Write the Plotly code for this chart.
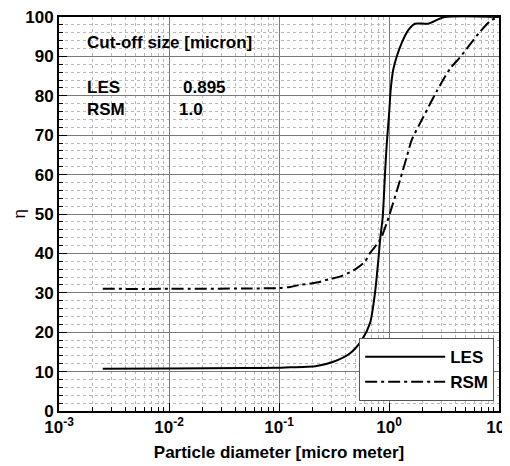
import plotly.graph_objects as go

# ---- data ----
les_d = [0.0025, 0.01, 0.05, 0.1, 0.126, 0.18, 0.22, 0.312, 0.44, 0.565, 0.672, 0.746, 0.8, 0.83,
         0.877, 0.92, 0.95, 0.98, 1.007, 1.035, 1.09, 1.17, 1.30, 1.49, 1.72, 2.26, 3.2, 10.0]
les_eta = [10.7, 10.8, 10.9, 11.0, 11.1, 11.2, 11.4, 12.5, 14.6, 18.0, 22.3, 30.0, 38.3, 43.4,
           49.3, 60.3, 67.0, 72.0, 76.3, 81.4, 86.5, 89.8, 93.3, 96.6, 98.3, 98.3, 100.0, 100.0]

rsm_d = [0.0025, 0.01, 0.05, 0.1, 0.126, 0.155, 0.22, 0.29, 0.359, 0.44, 0.508, 0.605, 0.672,
         0.83, 0.953, 1.09, 1.26, 1.45, 1.61, 2.05, 2.72, 3.59, 4.4, 6.7, 8.5, 10.0]
rsm_eta = [31.0, 31.0, 31.1, 31.2, 31.5, 32.0, 32.6, 33.5, 34.1, 35.2, 36.2, 37.9, 40.1,
           43.4, 47.7, 52.8, 58.6, 64.5, 68.8, 74.6, 81.2, 86.9, 89.7, 96.2, 99.2, 100.0]

x_tickvals = [0.001, 0.01, 0.1, 1, 10]
x_ticktext = ["10<sup>-3</sup>", "10<sup>-2</sup>", "10<sup>-1</sup>", "10<sup>0</sup>", "10<sup>1</sup>"]
y_tickvals = [0, 10, 20, 30, 40, 50, 60, 70, 80, 90, 100]

x_title = "Particle diameter [micro meter]"
y_title = "η"
cutoff_title = "Cut-off size [micron]"
cutoff_names = ["LES", "RSM"]
cutoff_values = ["0.895", "1.0"]

FONT = "Liberation Sans, Arial, sans-serif"
x_minor = [m * 10 ** e for e in range(-3, 1) for m in range(2, 10)]

fig = go.Figure()
fig.add_trace(go.Scatter(x=les_d, y=les_eta, mode="lines", name="LES",
                         line=dict(color="black", width=2, dash="solid",
                                   shape="spline", smoothing=0.7)))
fig.add_trace(go.Scatter(x=rsm_d, y=rsm_eta, mode="lines", name="RSM",
                         line=dict(color="black", width=2, dash="12px,4px,3px,4px",
                                   shape="spline", smoothing=0.7)))

# page body has an 8px margin, so the figure is 8px smaller and margins shifted
fig.update_layout(
    width=502, height=458,
    margin=dict(l=51, r=11, t=9, b=55),
    plot_bgcolor="white", paper_bgcolor="white",
    font=dict(family=FONT, size=17, color="black"),
    showlegend=True,
    legend=dict(x=0.989, y=0.025, xanchor="right", yanchor="bottom",
                bgcolor="white", bordercolor="#555555", borderwidth=1,
                font=dict(family=FONT, size=17, color="black", weight="bold"),
                itemwidth=80, tracegroupgap=0),
    xaxis=dict(
        type="log", range=[-3, 1], automargin=False, ticklabeloverflow="allow",
        tickvals=x_tickvals, ticktext=x_ticktext,
        ticks="inside", ticklen=8, tickwidth=1, tickcolor="black",
        showline=True, linewidth=2, linecolor="black", mirror=True,
        showgrid=True, gridcolor="#7a7a7a", gridwidth=1,
        tickfont=dict(family=FONT, size=17, weight="bold"),
        minor=dict(tickvals=x_minor, ticks="inside", ticklen=4, tickcolor="black",
                   showgrid=True, gridcolor="#b8b8b8", griddash="dot", gridwidth=1),
        title=dict(text=x_title,
                   font=dict(family=FONT, size=17, weight="bold"), standoff=10),
        zeroline=False,
    ),
    yaxis=dict(
        range=[0, 100], tickvals=y_tickvals, automargin=False, ticklabeloverflow="allow",
        ticks="inside", ticklen=8, tickwidth=1, tickcolor="black",
        showline=True, linewidth=2, linecolor="black", mirror=True,
        showgrid=True, gridcolor="#7a7a7a", gridwidth=1,
        tickfont=dict(family=FONT, size=17, weight="bold"),
        minor=dict(dtick=2, ticks="inside", ticklen=4, tickcolor="black",
                   showgrid=True, gridcolor="#b8b8b8", griddash="dot", gridwidth=1),
        zeroline=False,
    ),
)

# y-axis title (rotated), placed left of the tick labels
fig.add_annotation(xref="paper", yref="paper", x=-0.09, y=0.5, xanchor="center", yanchor="middle",
                   text=y_title, textangle=-90, showarrow=False, borderpad=0,
                   font=dict(family=FONT, size=17))

# white info box
fig.add_shape(type="rect", xref="paper", yref="paper", x0=0.041, x1=0.45, y0=0.675, y1=0.967,
              fillcolor="white", line=dict(width=0), layer="between")

fig.add_annotation(xref="paper", yref="paper", x=0.059, y=0.935, xanchor="left", yanchor="middle",
                   text=cutoff_title, showarrow=False,
                   font=dict(family=FONT, size=17, weight="bold"))
row_y = [0.82, 0.765]
value_x = [0.277, 0.268]
for name, val, yy, vx in zip(cutoff_names, cutoff_values, row_y, value_x):
    fig.add_annotation(xref="paper", yref="paper", x=0.059, y=yy, xanchor="left", yanchor="middle",
                       text=name, showarrow=False, font=dict(family=FONT, size=17, weight="bold"))
    fig.add_annotation(xref="paper", yref="paper", x=vx, y=yy, xanchor="left", yanchor="middle",
                       text=val, showarrow=False, font=dict(family=FONT, size=17, weight="bold"))

fig.write_html("out.html")
